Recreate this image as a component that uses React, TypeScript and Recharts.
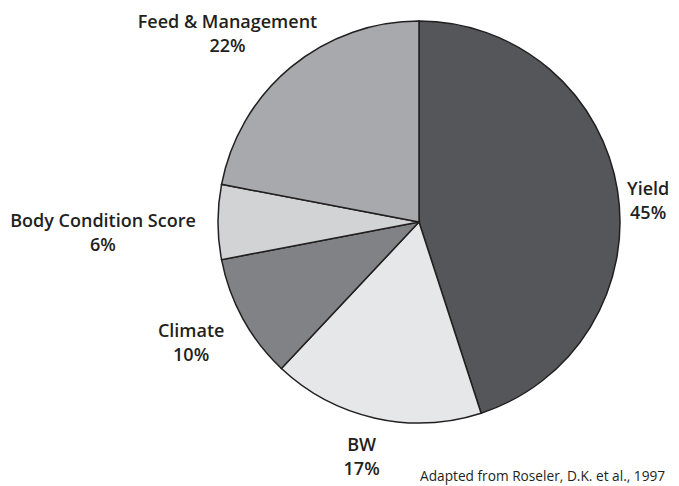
import { PieChart, Pie, Cell } from "recharts";

const categories = ["Yield", "BW", "Climate", "Body Condition Score", "Feed & Management"];
const shares = [45, 17, 10, 6, 22];
const colors = ["#55565a", "#e6e7e8", "#808285", "#d1d3d4", "#a7a9ac"];

// label placement: distance from centre plus a small nudge, per slice
const labelRadius: Record<string, number> = { Yield: 230, BW: 240, Climate: 260, "Body Condition Score": 316, "Feed & Management": 255 };
const labelNudge: Record<string, [number, number]> = {
  Yield: [2, 14],
  BW: [-5, 0],
  Climate: [0, -5],
  "Body Condition Score": [0, 10],
  "Feed & Management": [-29, 7],
};

const data = categories.map((name, i) => ({ name, value: shares[i], color: colors[i] }));
const RAD = Math.PI / 180;

function renderLabel(props: any) {
  const { cx, cy, midAngle, index } = props;
  const name = categories[index];
  const r = labelRadius[name];
  const [dx, dy] = labelNudge[name];
  const x = cx + r * Math.cos(-midAngle * RAD) + dx;
  const y = cy + r * Math.sin(-midAngle * RAD) + dy;
  return (
    <text key={name} x={x} y={y} textAnchor="middle" fill="#231f20" fontFamily="'Open Sans', sans-serif" fontWeight={600} fontSize={18}>
      <tspan x={x} dy={-5}>{name}</tspan>
      <tspan x={x} dy={24}>{shares[index]}%</tspan>
    </text>
  );
}

export default function App() {
  return (
    <div style={{ position: "absolute", left: 0, top: 0, width: 679, height: 486, background: "#fff" }}>
      <PieChart width={679} height={486} margin={{ top: 0, right: 0, bottom: 0, left: 0 }}>
        <Pie
          data={data}
          dataKey="value"
          nameKey="name"
          cx={419}
          cy={222}
          outerRadius={201}
          startAngle={90}
          endAngle={-270}
          stroke="#231f20"
          strokeWidth={1.5}
          label={renderLabel}
          labelLine={false}
          isAnimationActive={false}
        >
          {data.map((d) => (
            <Cell key={d.name} fill={d.color} />
          ))}
        </Pie>
      </PieChart>
      <div style={{ position: "absolute", left: 420, top: 466, fontFamily: "'Open Sans', sans-serif", fontSize: 13.7, lineHeight: "19px", color: "#231f20", whiteSpace: "nowrap" }}>
        Adapted from Roseler, D.K. et al., 1997
      </div>
    </div>
  );
}
